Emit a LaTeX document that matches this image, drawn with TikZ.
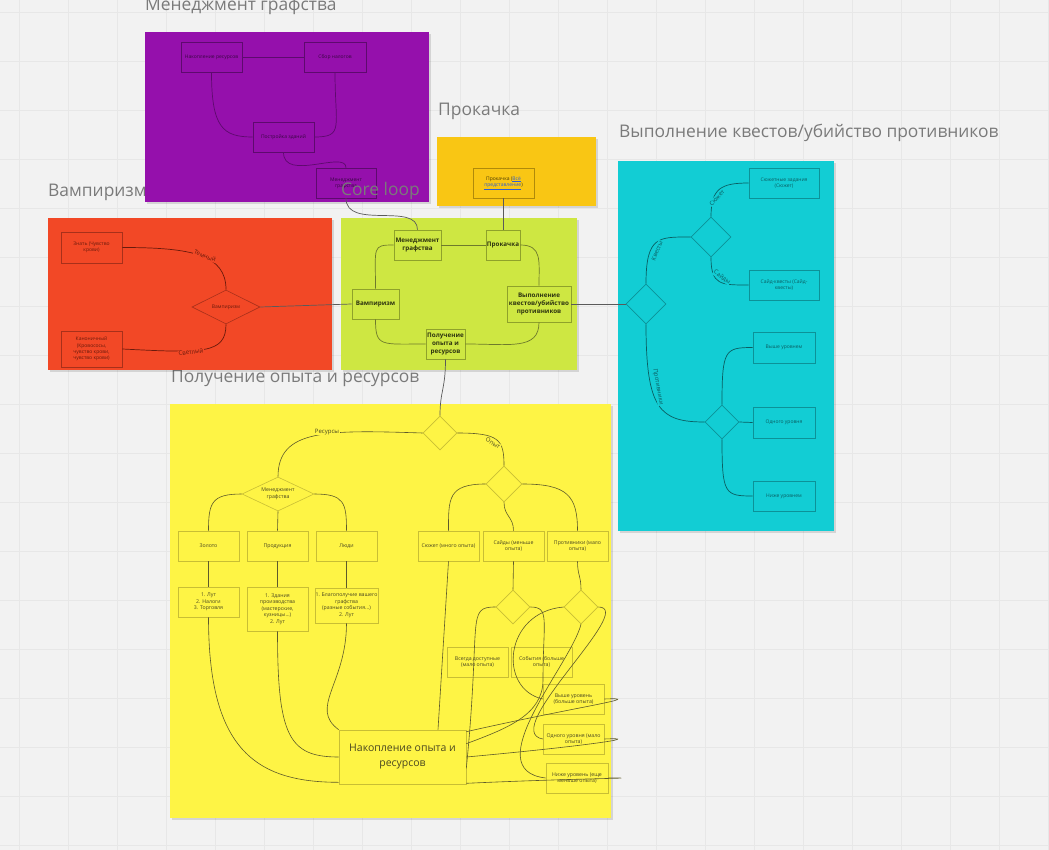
\documentclass[tikz,border=0pt]{standalone}
\usepackage{fontspec}
\setmainfont{Open Sans}
\usetikzlibrary{shapes.geometric,calc}
\definecolor{bg}{HTML}{F2F2F2}
\definecolor{gridc}{HTML}{E7E7E7}
\definecolor{ttl}{HTML}{7A7A7A}
\definecolor{purp}{HTML}{9510AC}
\definecolor{purpd}{HTML}{5E0A6E}
\definecolor{purpt}{HTML}{3A0644}
\definecolor{org}{HTML}{F9C614}
\definecolor{orgd}{HTML}{B08A0A}
\definecolor{orgt}{HTML}{4A3A05}
\definecolor{red1}{HTML}{F24826}
\definecolor{redd}{HTML}{A8301A}
\definecolor{redt}{HTML}{6A1A0C}
\definecolor{grn}{HTML}{CEE742}
\definecolor{grnd}{HTML}{8FA22A}
\definecolor{grnl}{HTML}{6E7A2C}
\definecolor{grnt}{HTML}{2E3410}
\definecolor{cyn}{HTML}{12CDD4}
\definecolor{cynd}{HTML}{0C9298}
\definecolor{cynt}{HTML}{0A5E62}
\definecolor{yel}{HTML}{FEF445}
\definecolor{yeld}{HTML}{C8BE34}
\definecolor{yell}{HTML}{5E5A2A}
\definecolor{yelt}{HTML}{4A4720}
\definecolor{conn}{HTML}{5A5A5A}
\definecolor{lnkc}{HTML}{2F5FD0}
\newcommand\myframe[5]{\fill[black,opacity=0.12] (#2+1.5,#3+2) rectangle (#4+1.5,#5+2);\fill[#1] (#2,#3) rectangle (#4,#5);}
\newcommand\lnk[1]{\textcolor{lnkc}{\underline{#1}}}
\begin{document}
\begin{tikzpicture}[x=1pt,y=-1pt,
  ttlstyle/.style={anchor=base west, text=ttl, font=\fontsize{17.4}{20}\selectfont, inner sep=0},
  bx/.style={draw, rectangle, align=center, inner sep=0.5, line width=0.6, font=\fontsize{5}{6.3}\selectfont},
  pbox/.style={bx, draw=purpd, text=purpt},
  obox/.style={bx, draw=orgd, text=orgt},
  rbox/.style={bx, draw=redd, text=redt},
  gbox/.style={bx, draw=grnd, text=grnt, font=\fontsize{6.3}{8}\bfseries\selectfont},
  cbox/.style={bx, draw=cynd, text=cynt},
  ybox/.style={bx, draw=yeld, text=yelt, font=\fontsize{5.2}{6.5}\selectfont},
  dia/.style={diamond, aspect=2, inner sep=0, align=center, line width=0.6},
  pl/.style={draw=purpd, line width=0.7},
  rl/.style={draw=redt, line width=0.7},
  gl/.style={draw=grnl, line width=0.7},
  cl/.style={draw=cynt, line width=0.7},
  yl/.style={draw=yell, line width=0.6},
  xl/.style={draw=conn, line width=0.7},
  lbl/.style={font=\fontsize{6}{7}\selectfont, inner sep=0.6}
]
\fill[bg] (0,0) rectangle (1049,850);
\useasboundingbox (0,0) rectangle (1049,850);
\foreach \gx in {19,68,...,1049} \draw[gridc, line width=0.6] (\gx,0) -- (\gx,850);
\foreach \gy in {12,61,...,850} \draw[gridc, line width=0.6] (0,\gy) -- (1049,\gy);

% titles that are partly hidden by frames
\node[ttlstyle] (tY) at (171,382) {Получение опыта и ресурсов};
\node[ttlstyle] (tR) at (48,197) {Вампиризм};

% frames
\myframe{yel}{170}{404}{611}{818}
\myframe{red1}{48}{218}{332}{370}
\myframe{cyn}{618}{161}{834}{531}
\myframe{purp}{145}{32}{429}{202}
\myframe{org}{437}{137}{596}{206}
\myframe{grn}{341}{218}{577}{370}

% ---------- purple ----------
\node[pbox, minimum width=61, minimum height=30] (pA) at (211.5,57) {Накопление ресурсов};
\node[pbox, minimum width=62, minimum height=30] (pB) at (335,57) {Сбор налогов};
\node[pbox, minimum width=61, minimum height=30] (pC) at (283.5,137) {Постройка зданий};
\node[pbox, minimum width=60, minimum height=30] (pD) at (346,183) {Менеджмент\\графства};
\draw[pl] (pA.east) -- (pB.west);
\draw[pl] (pA.south) .. controls +(0,55) and +(-30,0) .. (pC.west);
\draw[pl] (pB.south) .. controls +(0,55) and +(30,0) .. (pC.east);
\draw[pl] (pC.south) .. controls +(0,30) and +(0,-18) .. (pD.north);

% ---------- orange ----------
\node[obox, minimum width=61, minimum height=30] (oA) at (503.5,183) {Прокачка (\lnk{Всё}\\\lnk{представление})};

% ---------- red ----------
\node[rbox, minimum width=61, minimum height=31] (rA) at (91.5,247.5) {Знать (Чувство\\крови)};
\node[rbox, minimum width=61, minimum height=36] (rB) at (91.5,349) {Каноничный\\(Кровососы,\\чувство крови,\\чувство крови)};
\node[dia, draw=redd, text=redt, font=\fontsize{5}{6}\selectfont, minimum width=68, minimum height=34] (rD) at (226,307) {Вампиризм};
\draw[rl] (rA.east) .. controls +(70,0) and +(0,-35) .. (rD.north);
\draw[rl] (rB.east) .. controls +(80,4) and +(0,30) .. (rD.south);
\node[lbl, fill=red1, text=redt, rotate=-22] (lT) at (205,256) {Темный};
\node[lbl, fill=red1, text=redt, rotate=8] (lS) at (191,352) {Светлый};

% ---------- green ----------
\node[gbox, minimum width=47, minimum height=30] (gM) at (417.5,245) {Менеджмент\\графства};
\node[gbox, minimum width=34, minimum height=30] (gP) at (503,245) {Прокачка};
\node[gbox, minimum width=47, minimum height=30] (gV) at (375.5,304) {Вампиризм};
\node[gbox, minimum width=64, minimum height=36] (gQ) at (539,304) {Выполнение\\квестов/убийство\\противников};
\node[gbox, minimum width=39, minimum height=30] (gR) at (445.5,344) {Получение\\опыта и\\ресурсов};
\draw[gl] (gM.east) -- (gP.west);
\draw[gl] (gP.east) .. controls +(22,0) and +(0,-25) .. (gQ.north);
\draw[gl] (gQ.south) .. controls +(0,28) and +(45,0) .. (gR.east);
\draw[gl] (gV.south) .. controls +(0,28) and +(-45,0) .. (gR.west);
\draw[gl] (gV.north) .. controls +(0,-42) and +(-22,0) .. (gM.west);

% ---------- cyan ----------
\node[dia, draw=cynd, minimum width=40, minimum height=40, aspect=1] (cD1) at (646,304) {};
\node[dia, draw=cynd, minimum width=40, minimum height=40, aspect=1] (cD2) at (711,237) {};
\node[dia, draw=cynd, minimum width=34, minimum height=34, aspect=1] (cD3) at (722,422) {};
\node[cbox, minimum width=70, minimum height=30] (cS) at (784,183) {Сюжетные задания\\(Сюжет)};
\node[cbox, minimum width=70, minimum height=30] (cSd) at (784,285) {Сайд-квесты (Сайд-\\квесты)};
\node[cbox, minimum width=62, minimum height=31] (cH) at (784,347.5) {Выше уровнем};
\node[cbox, minimum width=62, minimum height=31] (cE) at (784,422.5) {Одного уровня};
\node[cbox, minimum width=62, minimum height=30] (cL) at (784,496) {Ниже уровнем};
\draw[cl] (cD1.north) .. controls +(0,-48) and +(-32,0) .. (cD2.west);
\draw[cl] (cD2.north) .. controls +(0,-28) and +(-28,0) .. (cS.west);
\draw[cl] (cD2.south) .. controls +(0,28) and +(-28,0) .. (cSd.west);
\draw[cl] (cD1.south) .. controls +(0,85) and +(-45,0) .. (cD3.west);
\draw[cl] (cD3.north) .. controls +(0,-55) and +(-28,0) .. (cH.west);
\draw[cl] (cD3.east) -- (cE.west);
\draw[cl] (cD3.south) .. controls +(0,55) and +(-28,0) .. (cL.west);
\node[lbl, fill=cyn, text=cynt, rotate=68] (lK) at (657,251) {Квесты};
\node[lbl, fill=cyn, text=cynt, rotate=48] (lSj) at (717,198) {Сюжет};
\node[lbl, fill=cyn, text=cynt, rotate=-35] (lSd) at (722,277) {Сайды};
\node[lbl, fill=cyn, text=cynt, rotate=-80] (lPr) at (658,387) {Противники};

% ---------- yellow ----------
\node[dia, draw=yeld, minimum width=34, minimum height=34, aspect=1] (yD0) at (440,433) {};
\node[dia, draw=yeld, text=yelt, font=\fontsize{5.2}{6.5}\selectfont, minimum width=72, minimum height=34] (yDM) at (278,494) {Менеджмент\\графства};
\node[ybox, minimum width=61, minimum height=30] (yG) at (208.5,546) {Золото};
\node[ybox, minimum width=61, minimum height=30] (yP) at (277.5,546) {Продукция};
\node[ybox, minimum width=61, minimum height=30] (yL) at (346.5,546) {Люди};
\node[ybox, minimum width=61, minimum height=30] (yG2) at (208.5,602) {1. Лут\\2. Налоги\\3. Торговля};
\node[ybox, minimum width=61, minimum height=44] (yP2) at (277.5,609) {1. Здания\\производства\\(мастерские,\\кузницы...)\\2. Лут};
\node[ybox, minimum width=61, minimum height=35] (yL2) at (346.5,605.5) {1. Благополучие вашего\\графства\\(разные события...)\\2. Лут};
\node[dia, draw=yeld, minimum width=36, minimum height=36, aspect=1] (yDB) at (504,484) {};
\node[ybox, minimum width=61, minimum height=30] (yS) at (448.5,546) {Сюжет (много опыта)};
\node[ybox, minimum width=61, minimum height=30] (ySd) at (513.5,546) {Сайды (меньше\\опыта)};
\node[ybox, minimum width=61, minimum height=30] (yPr) at (577.5,546) {Противники (мало\\опыта)};
\node[dia, draw=yeld, minimum width=34, minimum height=34, aspect=1] (yDC) at (513,607) {};
\node[dia, draw=yeld, minimum width=34, minimum height=34, aspect=1] (yDD) at (581,607) {};
\node[ybox, minimum width=61, minimum height=30] (yA) at (477.5,662) {Всегда доступные\\(мало опыта)};
\node[ybox, minimum width=61, minimum height=30] (yE) at (541.5,662) {События (больше\\опыта)};
\node[ybox, minimum width=61, minimum height=30] (yH) at (573.5,699) {Выше уровень\\(больше опыта)};
\node[ybox, minimum width=61, minimum height=30] (yO) at (573.5,739) {Одного уровня (мало\\опыта)};
\node[ybox, minimum width=62, minimum height=30] (yN) at (577,778) {Ниже уровень (еще\\меньше опыта)};
\node[ybox, minimum width=127, minimum height=54, font=\fontsize{10.5}{15}\selectfont] (yN0) at (402.5,757) {Накопление опыта и\\ресурсов};

\coordinate (nA) at ($(yN0.north east)+(0,2)$);
\coordinate (nB) at ($(yN0.north east)+(0,14)$);
\coordinate (nC) at (yN0.east);
\coordinate (nD) at ($(yN0.south east)+(0,-16)$);
\coordinate (nE) at ($(yN0.south east)+(0,-1)$);
\coordinate (nL) at ($(yN0.south west)+(0,-2)$);
\coordinate (nT) at ($(yN0.north)+(35.5,0)$);

% cross-region connectors
\draw[xl] (pD.south) .. controls +(0,32) and +(0,-28) .. (gM.north);
\draw[xl] (oA.south) -- (oA.south |- gP.north);
\draw[xl] (rD.east) -- (gV.west);
\draw[xl] (gQ.east) -- (cD1.west);
\draw[xl] (gR.south) .. controls +(0,30) and +(0,-25) .. (yD0.north);

% yellow connectors
\draw[yl] (yD0.west) .. controls +(-95,-3) and +(0,-48) .. (yDM.north);
\draw[yl] (yD0.east) .. controls +(42,0) and +(0,-26) .. (yDB.north);
\draw[yl] (yDM.west) .. controls +(-30,0) and +(0,-28) .. (yG.north);
\draw[yl] (yDM.south) -- (yP.north);
\draw[yl] (yDM.east) .. controls +(30,0) and +(0,-28) .. (yL.north);
\draw[yl] (yG.south) -- (yG2.north);
\draw[yl] (yP.south) -- (yP2.north);
\draw[yl] (yL.south) -- (yL2.north);
\draw[yl] (yG2.south) .. controls +(0,130) and +(-85,0) .. (nL);
\draw[yl] (yP2.south) .. controls +(0,105) and +(-50,0) .. (yN0.west);
\draw[yl] (yL2.south) .. controls +(0,60) and +(-30,-22) .. (yN0.north west);
\draw[yl] (yDB.west) .. controls +(-38,0) and +(0,-32) .. (yS.north);
\draw[yl] (yDB.south) .. controls +(0,14) and +(0,-14) .. (ySd.north);
\draw[yl] (yDB.east) .. controls +(45,0) and +(0,-35) .. (yPr.north);
\draw[yl] (yS.south) -- (nT);
\draw[yl] (ySd.south) -- (yDC.north);
\draw[yl] (yPr.south) .. controls +(0,14) and +(0,-14) .. (yDD.north);
\draw[yl] (yDC.west) .. controls +(-30,0) and +(15,-150) .. (nD);
\draw[yl] (yDC.east) .. controls +(20,0) and +(0,-60) .. (543,680) .. controls +(0,35) and +(40,-15) .. (nB);
\draw[yl] (yDD.west) .. controls +(-60,5) and +(-45,-10) .. (yH.west);
\draw[yl] (yDD.south) .. controls +(-10,40) and +(-70,-8) .. (yN.west);
\draw[yl] (yDD.east) .. controls +(40,0) and +(-45,-8) .. (yO.west);
\draw[yl] (nA) .. controls +(110,-25) and +(45,-2) .. (yH.east);
\draw[yl] (nC) .. controls +(110,-10) and +(45,-2) .. (yO.east);
\draw[yl] (nE) .. controls +(110,-5) and +(45,0) .. (yN.east);

\node[lbl, fill=yel, text=yelt] (lRes) at (327,432) {Ресурсы};
\node[lbl, fill=yel, text=yelt, rotate=-32] (lOp) at (493,443) {Опыт};

% titles on top
\node[ttlstyle] (tP) at (145,11) {Менеджмент графства};
\node[ttlstyle] (tO) at (438,116) {Прокачка};
\node[ttlstyle] (tG) at (341,196) {Core loop};
\node[ttlstyle] (tC) at (619,138) {Выполнение квестов/убийство противников};
\end{tikzpicture}
\end{document}
